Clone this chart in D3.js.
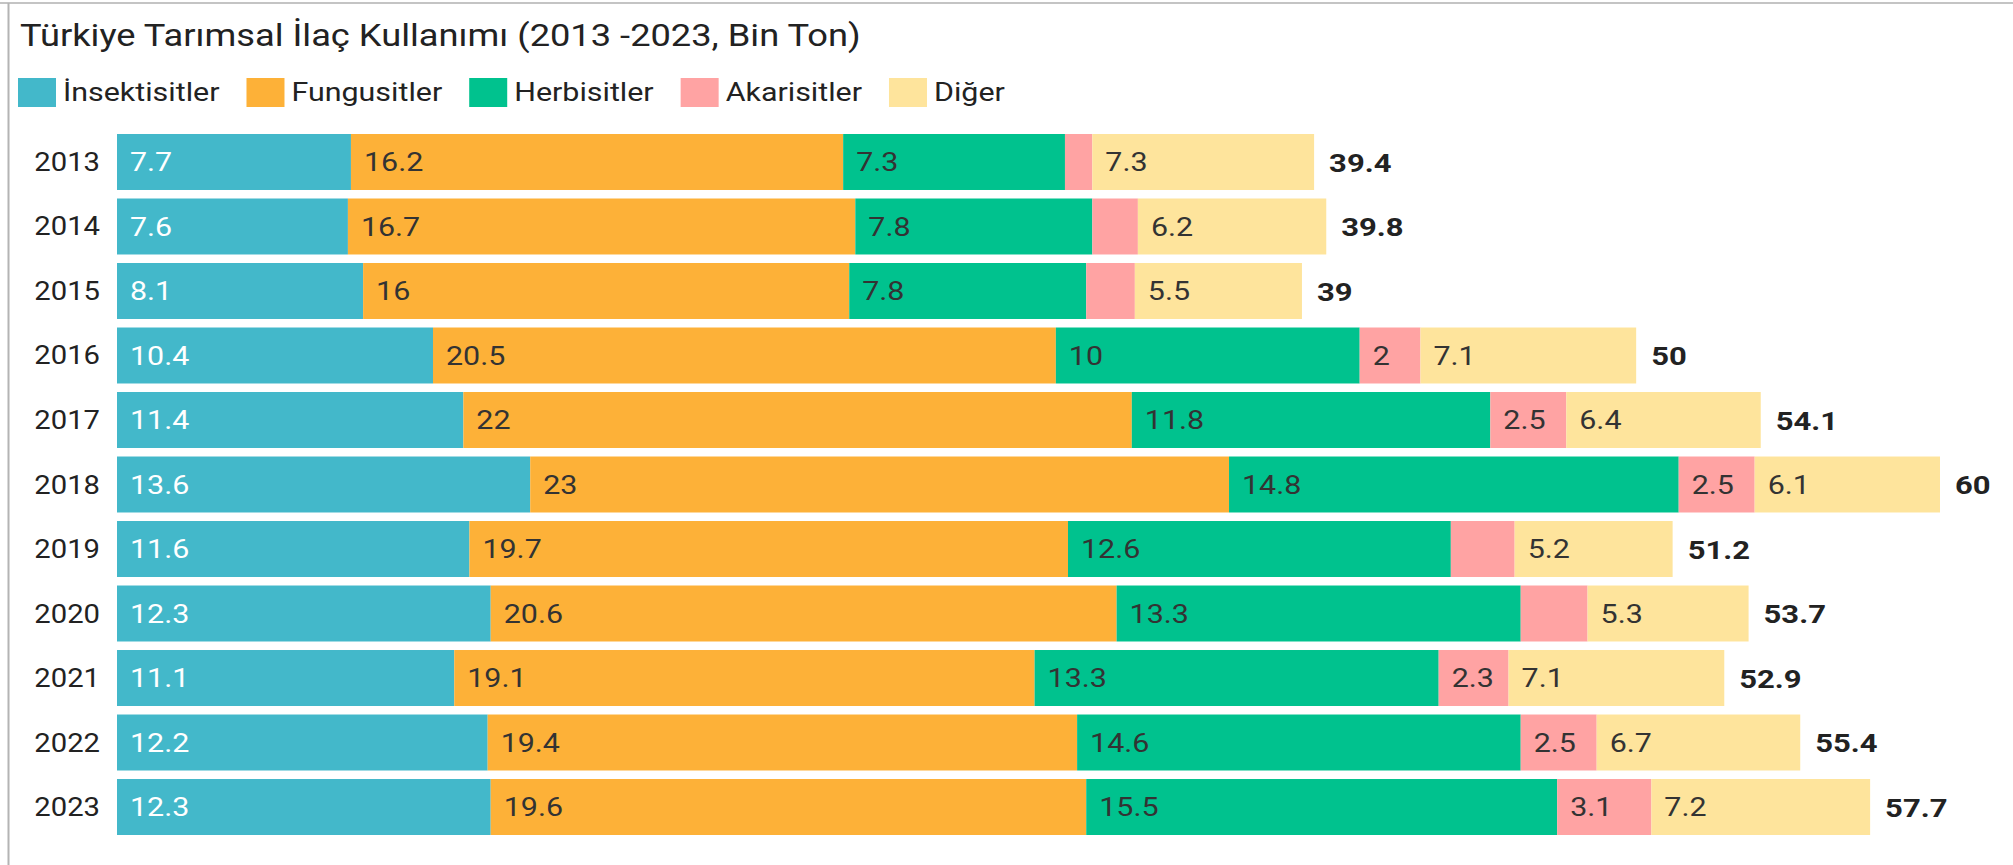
<!DOCTYPE html>
<html><head><meta charset="utf-8">
<script src="https://cdn.jsdelivr.net/npm/d3@7/dist/d3.min.js"></script>
<style>
body{margin:0;background:#fff;overflow:hidden}
text{font-family:Roboto,"Noto Sans",sans-serif}
</style>
</head><body>
<svg id="chart" width="2013" height="865"></svg>
<script>
// ---- data (Bin Ton) ----
const years = ["2013","2014","2015","2016","2017","2018","2019","2020","2021","2022","2023"];
const seriesNames = ["İnsektisitler","Fungusitler","Herbisitler","Akarisitler","Diğer"];
const insektisitler = [7.7,7.6,8.1,10.4,11.4,13.6,11.6,12.3,11.1,12.2,12.3];
const fungusitler   = [16.2,16.7,16,20.5,22,23,19.7,20.6,19.1,19.4,19.6];
const herbisitler   = [7.3,7.8,7.8,10,11.8,14.8,12.6,13.3,13.3,14.6,15.5];
const akarisitler   = [0.9,1.5,1.6,2,2.5,2.5,2.1,2.2,2.3,2.5,3.1];
const diger         = [7.3,6.2,5.5,7.1,6.4,6.1,5.2,5.3,7.1,6.7,7.2];
const totals        = [39.4,39.8,39,50,54.1,60,51.2,53.7,52.9,55.4,57.7];
const titleText = "Türkiye Tarımsal İlaç Kullanımı (2013 -2023, Bin Ton)";

const colors = ["#43b8ca","#fdb138","#00c28e","#ffa3a3","#fee49c"];
const labelColors = ["#ffffff","#333333","#333333","#333333","#333333"];
const SX = 1.17; // horizontal text stretch seen in the reference

const seriesValues = [insektisitler,fungusitler,herbisitler,akarisitler,diger];
const table = years.map((y,i)=>{
  const o = {year:y};
  seriesNames.forEach((s,k)=>o[s]=seriesValues[k][i]);
  return o;
});
const stacked = d3.stack().keys(seriesNames)(table);

const svg = d3.select("#chart");

// frame
svg.append("line").attr("x1",0).attr("x2",2013).attr("y1",3).attr("y2",3)
  .attr("stroke","#c4c4c4").attr("stroke-width",2);
svg.append("line").attr("x1",8.5).attr("x2",8.5).attr("y1",3).attr("y2",865)
  .attr("stroke","#b4b4b4").attr("stroke-width",2);

function stretchedText(sel, x, y){
  return sel.attr("transform",`translate(${x},${y}) scale(${SX},1)`);
}

// title
stretchedText(svg.append("text"),20,46)
  .attr("font-size",31).attr("fill","#222").text(titleText);

// legend
const leg = svg.append("g");
let lx = 18;
seriesNames.forEach((s,k)=>{
  leg.append("rect").attr("x",lx).attr("y",78).attr("width",38).attr("height",29)
    .attr("fill",colors[k]);
  const t = stretchedText(leg.append("text"),lx+45,101)
    .attr("font-size",26).attr("fill","#222").text(s);
  const w = t.node().getComputedTextLength()*SX;
  lx = lx + 45 + w + 27;
});

// scales
const x = d3.scaleLinear().domain([0,60]).range([117,1940]);
const y = d3.scaleBand().domain(years).range([134,835]).paddingInner(0.132).paddingOuter(0);

// y axis labels
const yAxis = svg.append("g");
years.forEach(yr=>{
  stretchedText(yAxis.append("text"),100,y(yr)+y.bandwidth()/2)
    .attr("dy","0.36em").attr("text-anchor","end")
    .attr("font-size",25).attr("fill","#222").text(yr);
});

// bars
const groups = svg.append("g").selectAll("g").data(stacked).join("g")
  .attr("fill",(d,i)=>colors[i]);
groups.selectAll("rect").data(d=>d).join("rect")
  .attr("x",d=>x(d[0]))
  .attr("y",d=>y(d.data.year))
  .attr("width",d=>x(d[1])-x(d[0]))
  .attr("height",y.bandwidth());

// segment labels (hidden when they don't fit)
stacked.forEach((ser,k)=>{
  ser.forEach(d=>{
    const segW = x(d[1])-x(d[0]);
    const v = d[1]-d[0];
    const t = stretchedText(svg.append("text"),x(d[0])+13,y(d.data.year)+y.bandwidth()/2)
      .attr("dy","0.36em").attr("font-size",26).attr("fill",labelColors[k])
      .text(d3.format("~g")(+v.toFixed(1)));
    const w = t.node().getComputedTextLength()*SX;
    if (w + 26 > segW) t.remove();
  });
});

// totals
years.forEach((yr,i)=>{
  const end = x(d3.sum(seriesValues, s=>s[i]));
  stretchedText(svg.append("text"),end+15,y(yr)+y.bandwidth()/2)
    .attr("dy","0.36em").attr("font-size",26.5).attr("font-weight","bold")
    .attr("fill","#222").text(totals[i]);
});
</script>
</body></html>
